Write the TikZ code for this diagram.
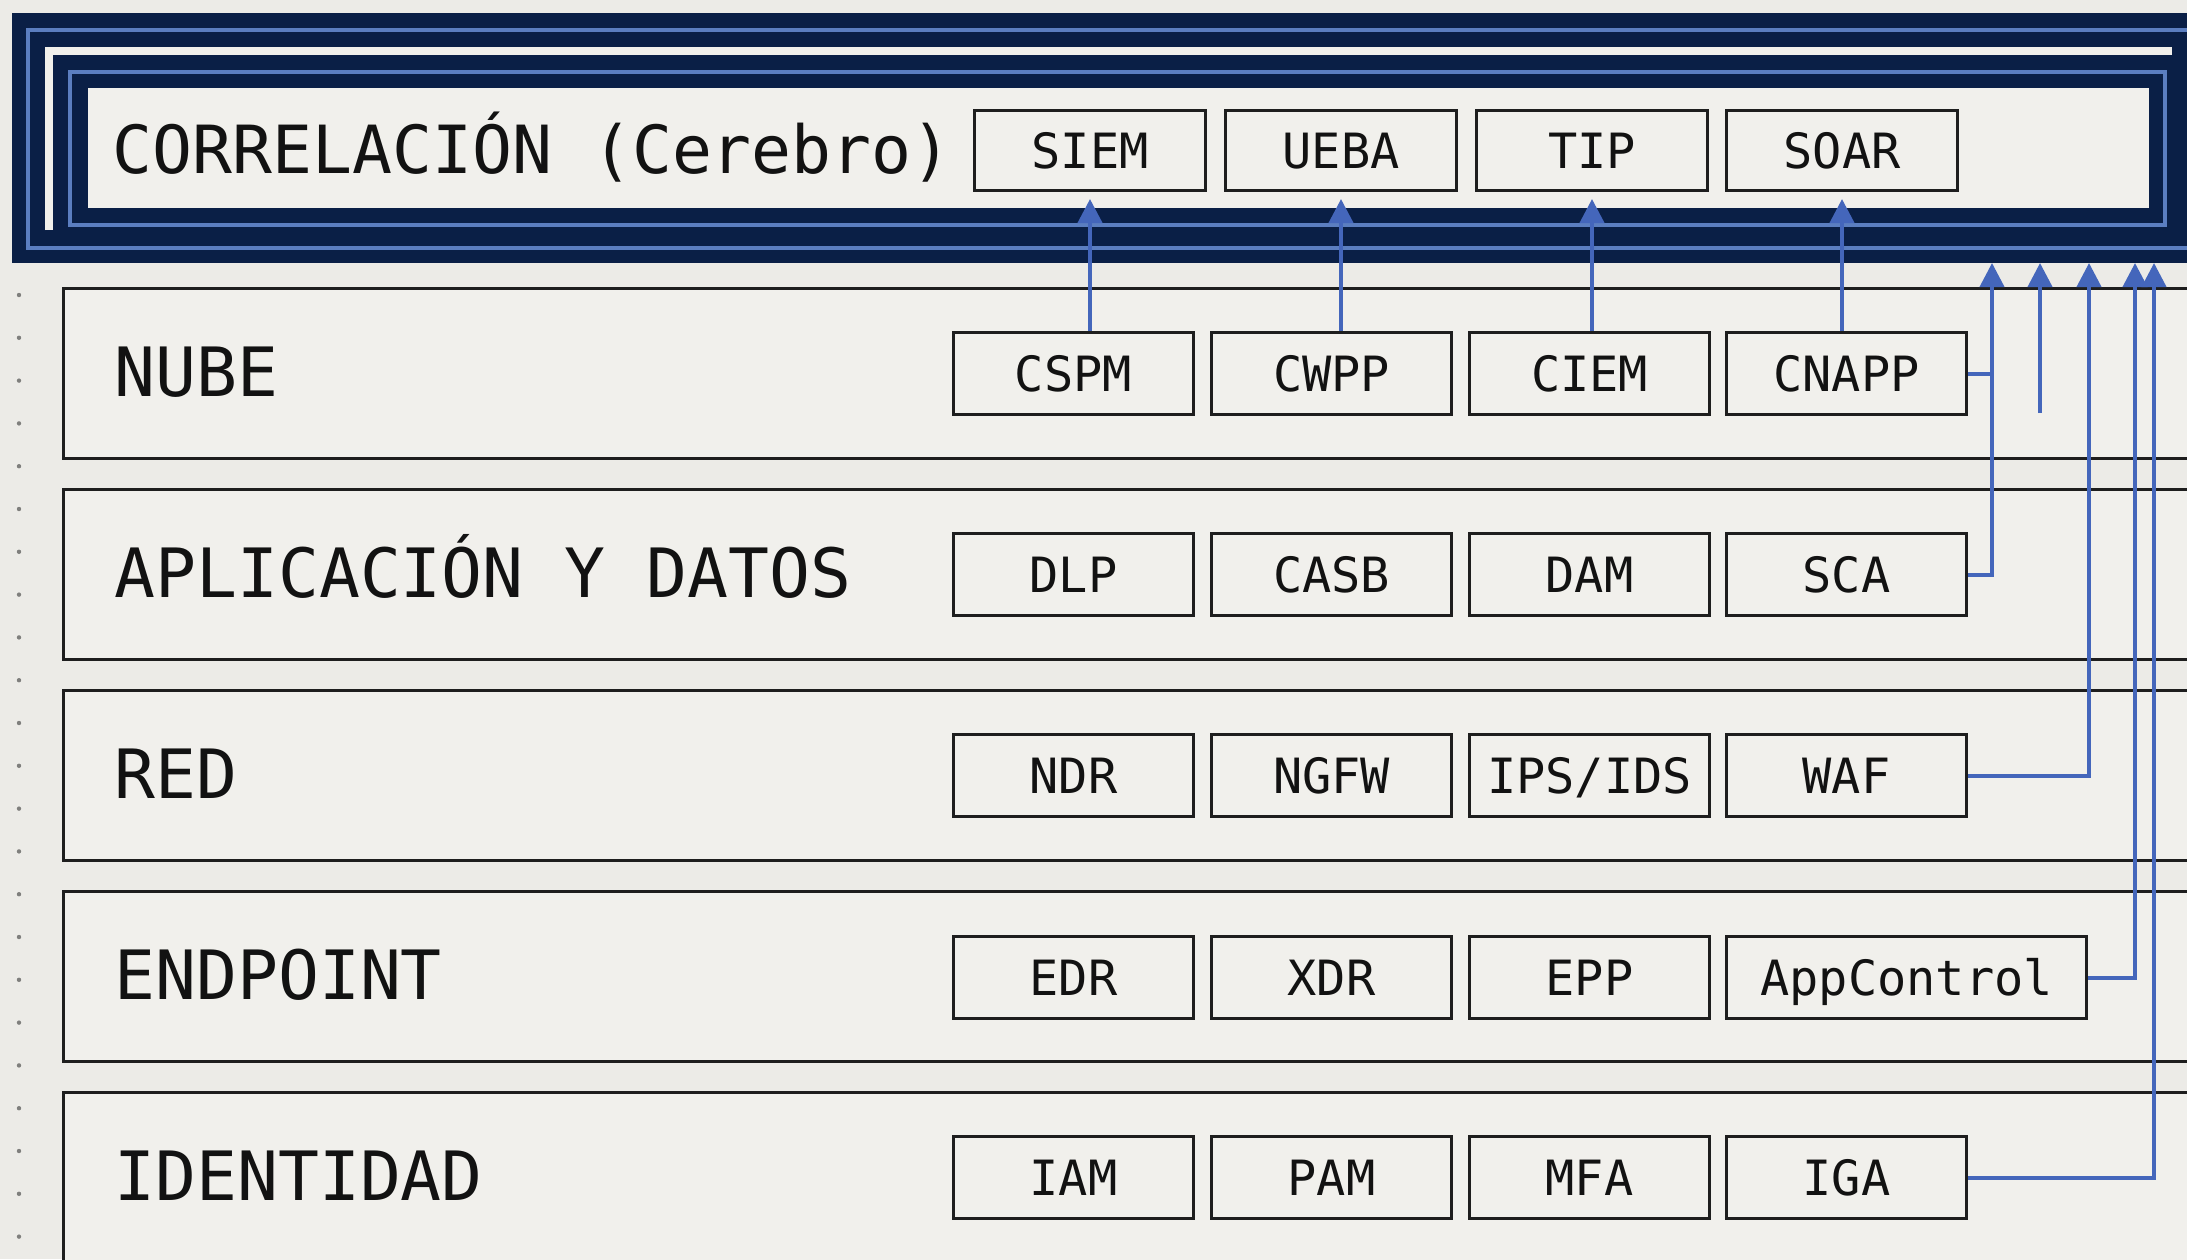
\documentclass[tikz,border=0pt]{standalone}
\usepackage{fontspec}
\setmainfont{DejaVu Sans Mono}
\usetikzlibrary{arrows.meta,calc}

\definecolor{paper}{HTML}{ECEBE7}
\definecolor{panel}{HTML}{F1F0EC}
\definecolor{navy}{HTML}{0A1F46}
\definecolor{steel}{HTML}{5B7EC0}
\definecolor{ink}{HTML}{1E1E1E}
\definecolor{lettering}{HTML}{121212}
\definecolor{wire}{HTML}{4466BB}
\definecolor{dotgray}{HTML}{7F7F7D}

\newcommand{\titlelabel}{\fontsize{33.2}{38}\selectfont}
\newcommand{\biglabel}{\fontsize{34}{40}\selectfont}
\newcommand{\smalllabel}{\fontsize{24.3}{28}\selectfont}

\tikzset{
  layerbox/.style={draw=ink, line width=1.5pt, fill=panel, anchor=north west,
    minimum width=1075pt, minimum height=85pt, inner sep=0pt},
  layername/.style={anchor=base west, inner sep=0pt, font=\biglabel, text=lettering},
  toolbox/.style={draw=ink, line width=1.5pt, fill=panel, anchor=north west,
    minimum width=120pt, minimum height=41pt, inner sep=0pt,
    text height=17.7pt, text depth=0pt, font=\smalllabel, text=lettering},
  corebox/.style={toolbox, minimum width=115.5pt, minimum height=40pt},
  wire/.style={draw=wire, line width=2pt},
  feed/.style={wire, -{Triangle[length=12pt,width=12pt]}},
}

\begin{document}
\begin{tikzpicture}[x=0.5pt,y=-0.5pt]
  \useasboundingbox (0,0) rectangle (2187,1259);
  \clip (0,0) rectangle (2187,1259);
  \fill[paper] (0,0) rectangle (2187,1259);

  % dotted guide on the left margin
  \foreach \k in {0,...,22}
    \fill[dotgray] (19,{295+42.8*\k}) circle (1.1pt);

  % correlation band: dark frame with inset rules
  \fill[navy] (12,13) rectangle (2200,263);
  \draw[steel, line width=1.6pt] (2200,30) -- (28,30) -- (28,248) -- (2200,248);
  \draw[panel, line width=4pt] (49,230) -- (49,51) -- (2172,51);
  \draw[steel, line width=1.6pt] (70,72) rectangle (2165,225);
  \node[fill=panel, anchor=north west, minimum width=1030.5pt, minimum height=60pt,
        inner sep=0pt] (core) at (88,88) {};
  \node[layername, font=\titlelabel] (title) at (112,173) {CORRELACIÓN (Cerebro)};

  \node[corebox] (nSIEM) at (973,109)  {SIEM};
  \node[corebox] (nUEBA) at (1224,109) {UEBA};
  \node[corebox] (nTIP)  at (1475,109) {TIP};
  \node[corebox] (nSOAR) at (1725,109) {SOAR};

  % layers
  \node[layerbox] (lNube) at (62,286.5) {};
  \node[layerbox] (lApp)  at (62,487.7) {};
  \node[layerbox] (lRed)  at (62,688.9) {};
  \node[layerbox] (lEnd)  at (62,890.1) {};
  \node[layerbox, minimum height=100pt] (lIdn) at (62,1091.3) {};

  \node[layername] (tNube) at (114,396)  {NUBE};
  \node[layername] (tApp)  at (114,597)  {APLICACIÓN Y DATOS};
  \node[layername] (tRed)  at (114,798)  {RED};
  \node[layername] (tEnd)  at (114,999)  {ENDPOINT};
  \node[layername] (tIdn)  at (114,1200) {IDENTIDAD};

  % tools per layer
  \node[toolbox] (nCSPM)  at (952,331)  {CSPM};
  \node[toolbox] (nCWPP)  at (1210,331) {CWPP};
  \node[toolbox] (nCIEM)  at (1468,331) {CIEM};
  \node[toolbox] (nCNAPP) at (1725,331) {CNAPP};

  \node[toolbox] (nDLP)  at (952,532)  {DLP};
  \node[toolbox] (nCASB) at (1210,532) {CASB};
  \node[toolbox] (nDAM)  at (1468,532) {DAM};
  \node[toolbox] (nSCA)  at (1725,532) {SCA};

  \node[toolbox] (nNDR)  at (952,733)  {NDR};
  \node[toolbox] (nNGFW) at (1210,733) {NGFW};
  \node[toolbox] (nIPS)  at (1468,733) {IPS/IDS};
  \node[toolbox] (nWAF)  at (1725,733) {WAF};

  \node[toolbox] (nEDR)  at (952,935)  {EDR};
  \node[toolbox] (nXDR)  at (1210,935) {XDR};
  \node[toolbox] (nEPP)  at (1468,935) {EPP};
  \node[toolbox, minimum width=180pt] (nAPPC) at (1725,935) {AppControl};

  \node[toolbox] (nIAM)  at (952,1135)  {IAM};
  \node[toolbox] (nPAM)  at (1210,1135) {PAM};
  \node[toolbox] (nMFA)  at (1468,1135) {MFA};
  \node[toolbox] (nIGA)  at (1725,1135) {IGA};

  % cloud tools feeding the correlation tools
  \draw[feed, shorten >=3.5pt] (nCSPM.north -| nSIEM.south) -- (nSIEM.south);
  \draw[feed, shorten >=3.5pt] (nCWPP.north -| nUEBA.south) -- (nUEBA.south);
  \draw[feed, shorten >=3.5pt] (nCIEM.north -| nTIP.south)  -- (nTIP.south);
  \draw[feed, shorten >=3.5pt] (nCNAPP.north -| nSOAR.south) -- (nSOAR.south);

  % right-hand risers into the correlation band
  \coordinate (busA) at (1992,263);
  \coordinate (busB) at (2040,263);
  \coordinate (busBlow) at (2040,413);
  \coordinate (busC) at (2089,263);
  \coordinate (busD) at (2135,263);
  \coordinate (busE) at (2154,263);

  \draw[wire] (nCNAPP.east) -- (nCNAPP.east -| busA);
  \draw[feed] (nSCA.east) -| (busA);
  \draw[feed] (busBlow) -- (busB);
  \draw[feed] (nWAF.east) -| (busC);
  \draw[feed] (nAPPC.east) -| (busD);
  \draw[feed] (nIGA.east) -| (busE);
\end{tikzpicture}
\end{document}
